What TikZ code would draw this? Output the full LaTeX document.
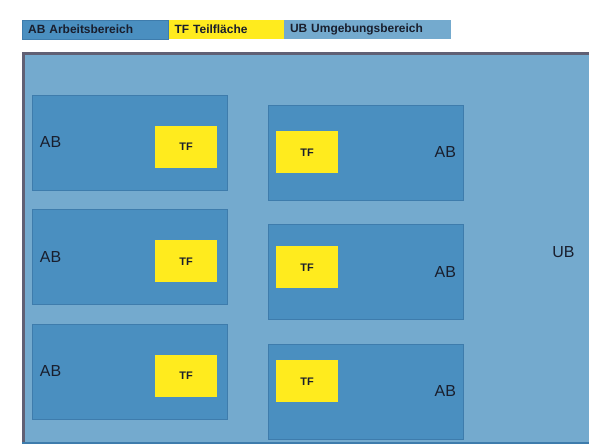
\documentclass[tikz,border=0pt]{standalone}
\usepackage{fontspec}
\setmainfont{Liberation Sans}
\usetikzlibrary{positioning}

\definecolor{ubblue}{RGB}{116,170,206}
\definecolor{abblue}{RGB}{74,143,192}
\definecolor{abedge}{RGB}{62,124,172}
\definecolor{tfyellow}{RGB}{255,235,30}
\definecolor{framegray}{RGB}{96,96,116}
\definecolor{inkdark}{RGB}{25,30,45}

\begin{document}
\begin{tikzpicture}[x=1bp, y=-1bp,
      legbox/.style={rectangle, minimum height=19bp, inner xsep=6bp, inner ysep=0pt, align=left, text=inkdark, font=\fontsize{12}{14}\selectfont\bfseries},
      abbox/.style={rectangle, draw=abedge, fill=abblue, minimum width=195bp, minimum height=95bp, inner sep=0pt},
      tfbox/.style={rectangle, fill=tfyellow, minimum width=62bp, minimum height=42bp, inner sep=0pt, text=inkdark, font=\fontsize{11}{13}\selectfont\bfseries},
      lbl/.style={inner sep=0pt, text=inkdark, font=\fontsize{16}{18}\selectfont},
      node distance=19bp and 0pt
    ]
    \useasboundingbox (0,0) rectangle (589,445);

    % Legend
    \node[legbox, fill=abblue, draw=abedge, text width=134bp, anchor=west] (legab) at (22,29.5) {AB Arbeitsbereich};
    \node[legbox, fill=tfyellow, text width=103bp, right=0pt of legab] (legtf) {TF Teilfläche};
    \node[legbox, fill=ubblue, text width=155bp, right=0pt of legtf] (legub) {UB Umgebungsbereich};

    % Frame (UB)
    \fill[ubblue] (22,52) rectangle (600,443);
    \draw[framegray, line width=3bp] (600,54) -- (23.5,54) -- (23.5,443);
    \draw[abedge, line width=1.5bp] (22,443) -- (600,443);
    \node[lbl] (ub) at (563.5,252) {UB};

    % Left column
    \node[abbox] (ab1) at (129.5,142.5) {};
    \node[abbox, below=of ab1] (ab2) {};
    \node[abbox, below=of ab2] (ab3) {};
    \node[tfbox, anchor=east] (tf1) at ([xshift=-10bp, yshift=-4.5bp]ab1.east) {TF};
    \node[tfbox, anchor=east] (tf2) at ([xshift=-10bp, yshift=-4.5bp]ab2.east) {TF};
    \node[tfbox, anchor=east] (tf3) at ([xshift=-10bp, yshift=-4.5bp]ab3.east) {TF};
    \node[lbl, anchor=west] (lab1) at ([xshift=8bp]ab1.west) {AB};
    \node[lbl, anchor=west] (lab2) at ([xshift=8bp]ab2.west) {AB};
    \node[lbl, anchor=west] (lab3) at ([xshift=8bp]ab3.west) {AB};

    % Right column
    \node[abbox] (ab4) at (365.5,152.5) {};
    \node[abbox, below=24bp of ab4] (ab5) {};
    \node[abbox, below=24bp of ab5] (ab6) {};
    \node[tfbox, anchor=west] (tf4) at ([xshift=8bp]ab4.west) {TF};
    \node[tfbox, anchor=west] (tf5) at ([xshift=8bp, yshift=4.5bp]ab5.west) {TF};
    \node[tfbox, anchor=west] (tf6) at ([xshift=8bp, yshift=10bp]ab6.west) {TF};
    \node[lbl, anchor=east] (lab4) at ([xshift=-7bp]ab4.east) {AB};
    \node[lbl, anchor=east] (lab5) at ([xshift=-7bp]ab5.east) {AB};
    \node[lbl, anchor=east] (lab6) at ([xshift=-7bp]ab6.east) {AB};

    \end{tikzpicture}
\end{document}
